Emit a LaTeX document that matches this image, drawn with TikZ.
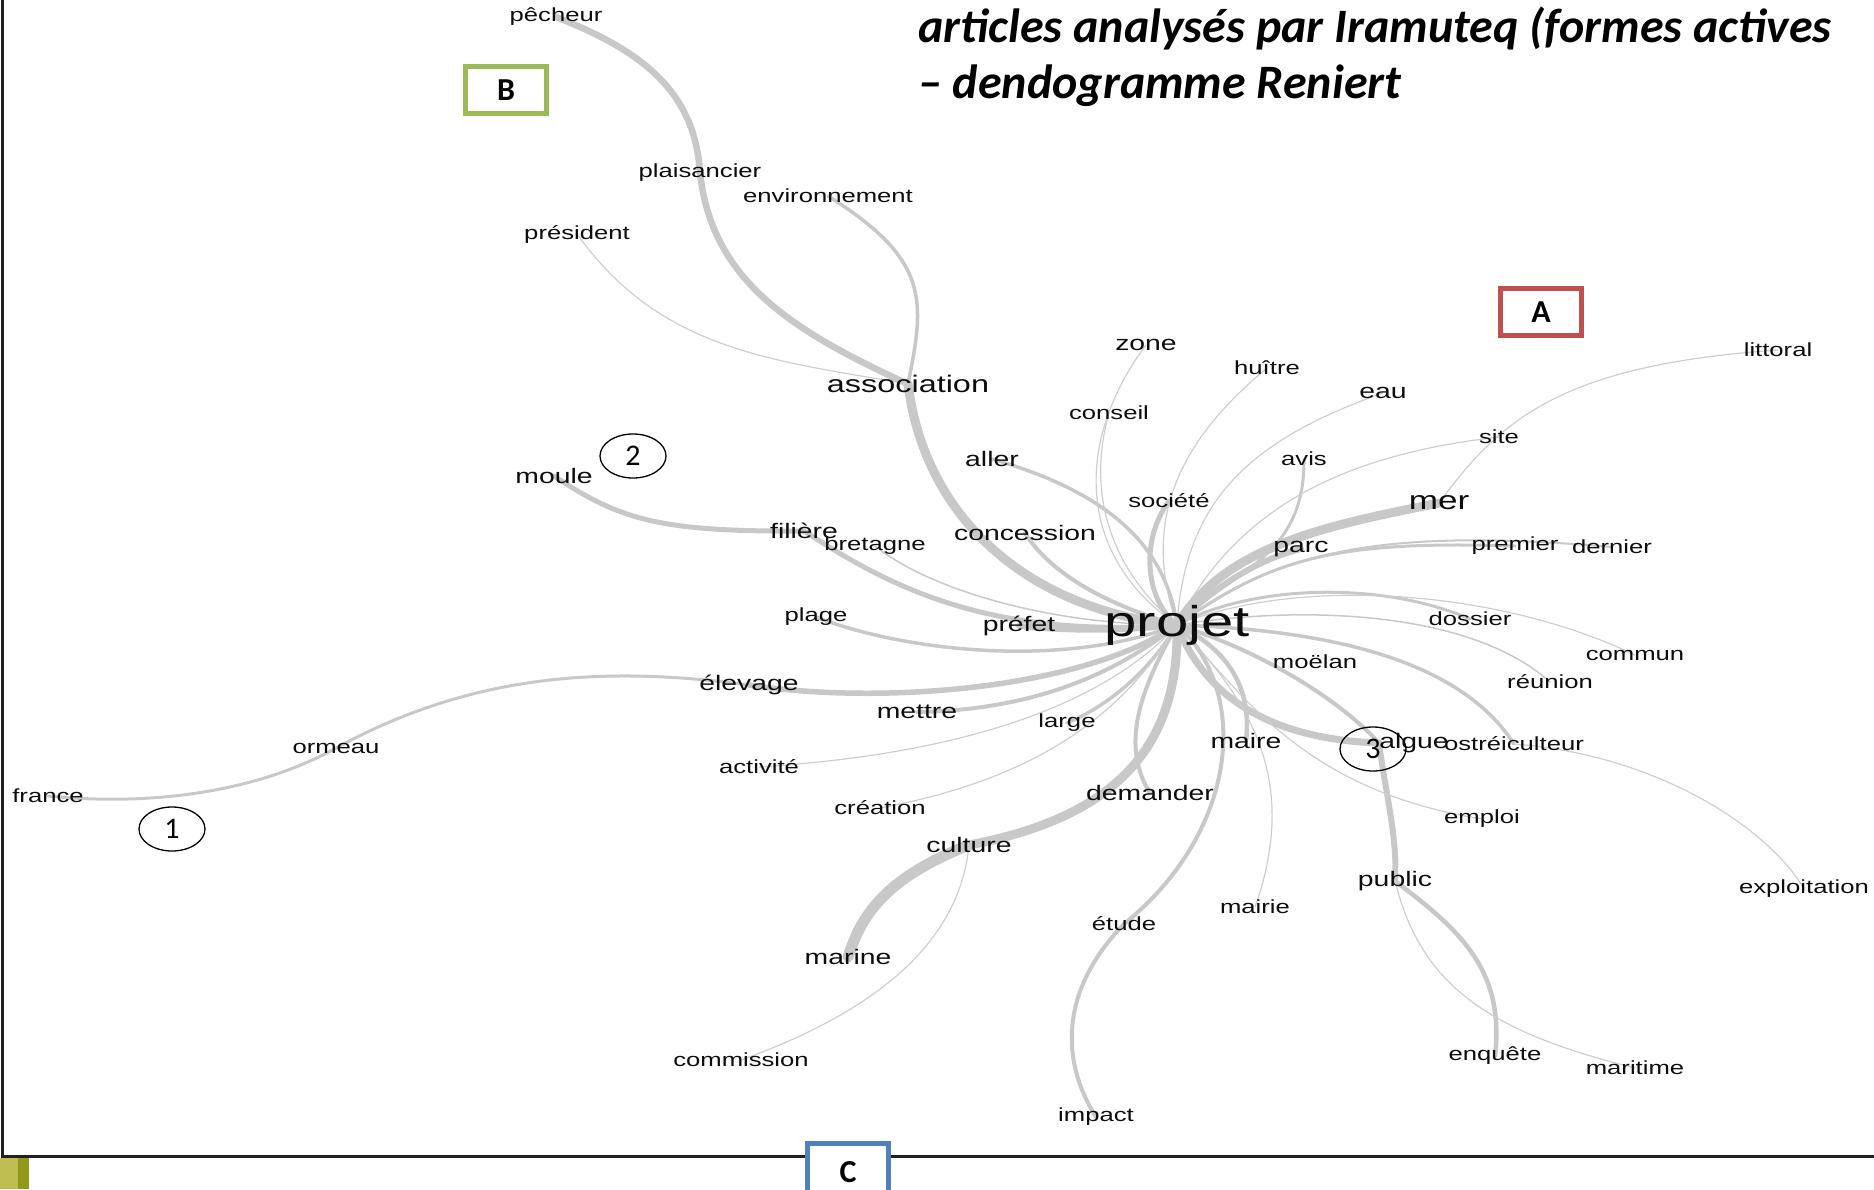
\documentclass[tikz,border=0pt]{standalone}
\usepackage{fontspec}
\setmainfont{Liberation Sans}
\newfontfamily\calfont{Carlito}
\usepackage{tikz}
\usetikzlibrary{backgrounds, shapes.geometric}
\definecolor{branchgray}{RGB}{200,200,200}
\definecolor{thingray}{RGB}{206,206,206}
\definecolor{boxred}{RGB}{192,80,77}
\definecolor{boxgreen}{RGB}{155,187,89}
\definecolor{boxblue}{RGB}{79,129,189}
\definecolor{photoolive}{RGB}{146,152,26}
\definecolor{photolight}{RGB}{190,190,80}
\tikzset{
	word/.append style={
		inner sep=0pt,
		text=black!95,
		xscale=1.35,
		font={\fontsize{19}{22}\selectfont}
	},
	midword/.append style={
		word,
		font={\fontsize{21}{25}\selectfont}
	},
	branch/.style={
		draw=branchgray,
		line cap=round,
		line width=#1
	},
	branch/.default=1.3,
	thin/.style={
		draw=thingray,
		line width=1.2pt
	},
	letterbox/.append style={
		draw,
		fill=white,
		line width=5pt,
		minimum width=81pt,
		minimum height=47pt,
		font={\calfont\bfseries\fontsize{32}{34}\selectfont}
	},
	numcircle/.append style={
		draw,
		ellipse,
		line width=1.3pt,
		inner sep=0pt,
		minimum width=66pt,
		minimum height=44pt,
		font={\calfont\fontsize{30}{32}\selectfont}
	},
	titletext/.append style={
		inner sep=0pt,
		anchor=base west,
		font={\calfont\bfseries\itshape\fontsize{48}{56}\selectfont}
	}
}

\begin{document}
\begin{tikzpicture}[x=1pt, y=-1pt]
\useasboundingbox (0,0) rectangle (1874,1189);

\node[titletext] (title1) at (918,42) {articles analysés par Iramuteq (formes actives};
\node[titletext] (title2) at ([yshift=-56pt]title1.base west) {– dendogramme Reniert};

% mots
\node[word] (pecheur) at (556,17) {pêcheur};
\node[word] (plaisancier) at (700,173) {plaisancier};
\node[word] (environnement) at (828,196) {environnement};
\node[word] (president) at (577,234) {président};
\node[word, font={\fontsize{24}{28}\selectfont}] (association) at (908,384) {association};
\node[midword] (zone) at (1146,345) {zone};
\node[word] (huitre) at (1267,368) {huître};
\node[midword] (eau) at (1383,393) {eau};
\node[word] (conseil) at (1109,413) {conseil};
\node[word] (littoral) at (1778,350) {littoral};
\node[word] (site) at (1499,437) {site};
\node[midword] (aller) at (992,459) {aller};
\node[word] (avis) at (1304,459) {avis};
\node[midword] (moule) at (554,476) {moule};
\node[word] (societe) at (1169,501) {société};
\node[word, font={\fontsize{26}{30}\selectfont}] (mer) at (1439,503) {mer};
\node[midword] (concession) at (1025,533) {concession};
\node[midword] (filiere) at (804,531) {filière};
\node[word] (bretagne) at (875,546) {bretagne};
\node[midword] (parc) at (1301,549) {parc};
\node[word] (premier) at (1515,546) {premier};
\node[word] (dernier) at (1612,547) {dernier};
\node[word] (plage) at (816,617) {plage};
\node[midword] (prefet) at (1019,626) {préfet};
\node[word, font={\fontsize{43}{48}\selectfont}] (projet) at (1177,625) {projet};
\node[word] (dossier) at (1470,619) {dossier};
\node[word] (commun) at (1635,655) {commun};
\node[word] (moelan) at (1315,662) {moëlan};
\node[word] (reunion) at (1550,682) {réunion};
\node[midword] (elevage) at (749,685) {élevage};
\node[midword] (mettre) at (917,712) {mettre};
\node[word] (large) at (1067,723) {large};
\node[word] (ormeau) at (336,748) {ormeau};
\node[midword] (maire) at (1246,741) {maire};
\node[midword] (algue) at (1414,743) {algue};
\node[word] (ostreiculteur) at (1514,744) {ostréiculteur};
\node[word] (activite) at (759,767) {activité};
\node[midword] (demander) at (1150,793) {demander};
\node[word] (france) at (48,796) {france};
\node[word] (creation) at (880,808) {création};
\node[word] (emploi) at (1482,819) {emploi};
\node[midword] (culture) at (969,845) {culture};
\node[midword] (public) at (1395,881) {public};
\node[word] (exploitation) at (1804,889) {exploitation};
\node[word] (mairie) at (1255,907) {mairie};
\node[word] (etude) at (1124,924) {étude};
\node[midword] (marine) at (848,957) {marine};
\node[word] (commission) at (741,1060) {commission};
\node[word] (enquete) at (1495,1056) {enquête};
\node[word] (maritime) at (1635,1068) {maritime};
\node[word] (impact) at (1096,1117) {impact};

% classes
\node[numcircle] (num1) at (172,829) {1};
\node[numcircle] (num2) at (633,456) {2};
\node[numcircle] (num3) at (1373,749) {3};
\node[letterbox, draw=boxgreen] (boxB) at (506,90) {B};
\node[letterbox, draw=boxred] (boxA) at (1541,312) {A};

\begin{scope}[on background layer]
\draw[branch=9] (projet.center) .. controls (1030,610) and (925,520) .. (association.center);
\draw[branch=6.5] (association.center) .. controls (790,330) and (712,280) .. (plaisancier.center);
\draw[branch=6.5] (plaisancier.center) .. controls (695,90) and (640,50) .. (pecheur.center);
\draw[branch=3.5] (association.center) .. controls (925,300) and (930,260) .. (environnement.center);
\draw[thin] (association.center) .. controls (770,360) and (660,350) .. (president.center);
\draw[branch=4] (concession.center) .. controls (1045,565) and (1090,600) .. (projet.center);
\draw[branch=3.5] (aller.center) .. controls (1100,490) and (1165,540) .. (projet.center);
\draw[thin] (zone.center) .. controls (1075,440) and (1075,555) .. (projet.center);
\draw[thin] (conseil.center) .. controls (1090,480) and (1100,560) .. (projet.center);
\draw[thin] (huitre.center) .. controls (1180,440) and (1140,520) .. (projet.center);
\draw[branch=5] (societe.center) .. controls (1140,540) and (1145,600) .. (projet.center);
\draw[thin] (eau.center) .. controls (1250,440) and (1185,500) .. (projet.center);
\draw[branch=3] (avis.center) .. controls (1305,560) and (1230,570) .. (projet.center);
\draw[thin] (site.center) .. controls (1340,455) and (1235,510) .. (projet.center);
\draw[branch=9] (mer.center) .. controls (1330,525) and (1225,545) .. (projet.center);
\draw[thin] (mer.center) .. controls (1500,420) and (1560,365) .. (littoral.center);
\draw[branch=6] (parc.center) .. controls (1255,560) and (1210,590) .. (projet.center);
\draw[branch=3] (projet.center) .. controls (1270,560) and (1330,540) .. (premier.center);
\draw[branch=2] (projet.center) .. controls (1280,548) and (1390,528) .. (dernier.center);
\draw[branch=3] (projet.center) .. controls (1250,585) and (1380,580) .. (dossier.center);
\draw[thin] (projet.center) .. controls (1300,575) and (1500,590) .. (commun.center);
\draw[branch=1.5] (projet.center) .. controls (1300,605) and (1470,610) .. (reunion.center);
\draw[branch=3.5] (projet.center) .. controls (1330,630) and (1460,660) .. (ostreiculteur.center);
\draw[thin] (ostreiculteur.center) .. controls (1660,755) and (1770,830) .. (exploitation.center);
\draw[branch=4] (projet.center) .. controls (1260,650) and (1340,700) .. (algue.west);
\draw[branch=7] (projet.center) .. controls (1210,710) and (1290,740) .. (algue.west);
\draw[branch=6] (algue.west) .. controls (1385,790) and (1398,840) .. (public.center);
\draw[branch=4.5] (public.center) .. controls (1460,930) and (1505,970) .. (enquete.center);
\draw[thin] (public.center) .. controls (1420,980) and (1480,1030) .. (maritime.center);
\draw[branch=4.5] (projet.center) .. controls (1230,650) and (1252,690) .. (maire.center);
\draw[thin] (projet.center) .. controls (1240,690) and (1300,790) .. (emploi.center);
\draw[thin] (projet.center) .. controls (1250,700) and (1300,780) .. (mairie.center);
\draw[branch=4] (projet.center) .. controls (1250,690) and (1240,830) .. (etude.center);
\draw[branch=4] (etude.center) .. controls (1060,990) and (1060,1060) .. (impact.center);
\draw[branch=4] (projet.center) .. controls (1140,690) and (1120,745) .. (demander.center);
\draw[branch=9] (projet.center) .. controls (1180,760) and (1100,820) .. (culture.center);
\draw[branch=11] (culture.center) .. controls (880,880) and (860,920) .. (marine.center);
\draw[thin] (culture.center) .. controls (960,940) and (880,1010) .. (commission.center);
\draw[branch=3.5] (large.center) .. controls (1110,705) and (1150,670) .. (projet.center);
\draw[thin] (activite.center) .. controls (950,755) and (1100,710) .. (projet.center);
\draw[thin] (creation.center) .. controls (1030,780) and (1120,720) .. (projet.center);
\draw[branch=4] (mettre.center) .. controls (1040,710) and (1120,670) .. (projet.center);
\draw[branch=5.5] (elevage.center) .. controls (880,705) and (1080,690) .. (projet.center);
\draw[branch=3] (elevage.center) .. controls (600,665) and (470,675) .. (ormeau.center);
\draw[branch=3] (ormeau.center) .. controls (270,785) and (170,808) .. (france.center);
\draw[branch=3.5] (plage.center) .. controls (900,650) and (1060,670) .. (projet.center);
\draw[branch=6] (prefet.center) .. controls (1080,632) and (1130,630) .. (projet.center);
\draw[branch=5] (filiere.center) .. controls (880,580) and (980,640) .. (projet.center);
\draw[branch=5] (moule.center) .. controls (620,520) and (660,532) .. (filiere.center);
\draw[branch=1.5] (bretagne.center) .. controls (930,590) and (1050,625) .. (projet.center);
\end{scope}

% cadre de la diapositive
\draw[line width=3pt, black!88] (2,0) -- (2,1156) -- (1874,1156);
\fill[photoolive] (0,1158) rectangle (29,1189);
\fill[photolight] (0,1158) rectangle (18,1189);
\node[letterbox, draw=boxblue, minimum height=58pt] (boxC) at (848,1172) {C};
\end{tikzpicture}
\end{document}
